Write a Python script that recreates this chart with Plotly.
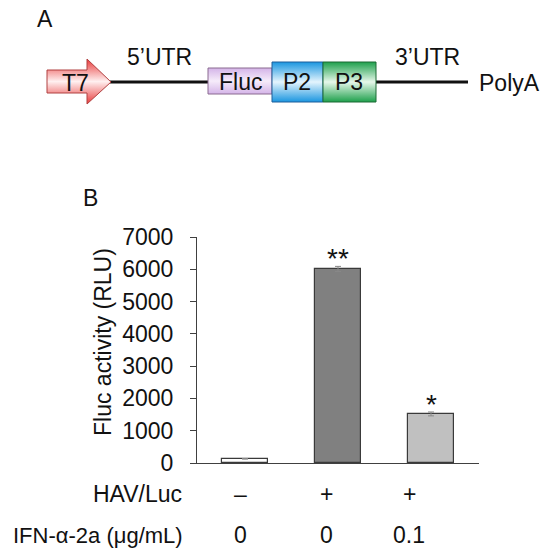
import plotly.graph_objects as go

# ==========================================================
# DATA
# ==========================================================

groups = ["HAV/Luc -", "HAV/Luc +", "HAV/Luc + IFN"]
fluc_rlu = [130, 6010, 1520]
fluc_err = [10, 80, 60]
bar_colors = ["#ffffff", "#808080", "#c0c0c0"]
stars = ["", "**", "*"]

y_ticks = [0, 1000, 2000, 3000, 4000, 5000, 6000, 7000]

hav_row = ["–", "+", "+"]
ifn_row = ["0", "0", "0.1"]

FONT = "Arial, Liberation Sans, sans-serif"
FS = 23
W = H = 550
OFF = 8  # page body margin


def px(x):
    return (x - OFF) / W


def py(y):
    return (H - (y - OFF)) / H


# ==========================================================
# BAR CHART (panel B)
# ==========================================================

fig = go.Figure()

fig.add_trace(
    go.Bar(
        x=list(range(len(groups))),
        y=fluc_rlu,
        width=0.505,
        marker=dict(color=bar_colors, line=dict(color="#3a3a3a", width=1.2)),
        error_y=dict(type="data", array=fluc_err, color="#888888",
                     thickness=1, width=3),
        showlegend=False,
        hoverinfo="skip",
    )
)

for i, s in enumerate(stars):
    if s:
        fig.add_annotation(
            x=i, y=fluc_rlu[i] + fluc_err[i], xref="x", yref="y",
            text=s, showarrow=False, yanchor="bottom", yshift=-10,
            font=dict(family=FONT, size=28, color="#111111"),
        )

fig.update_xaxes(
    range=[-0.516, 2.516],
    domain=[px(197), px(479)],
    automargin=False,
    showline=True, linecolor="#404040", linewidth=1,
    showticklabels=False, ticks="", showgrid=False, zeroline=False,
)

fig.update_yaxes(
    range=[0, 7000],
    domain=[py(463), py(237)],
    automargin=False,
    tickvals=y_ticks,
    showline=True, linecolor="#404040", linewidth=1,
    ticks="outside", ticklen=6, tickcolor="#404040",
    ticklabelstandoff=12,
    tickfont=dict(family=FONT, size=FS, color="#111111"),
    showgrid=False, zeroline=False,
)

# ==========================================================
# CONSTRUCT DIAGRAM (panel A), drawn in screen-pixel space
# ==========================================================

fig.update_layout(
    xaxis2=dict(domain=[0, 1], range=[OFF, W + OFF], visible=False,
                anchor="y2", automargin=False),
    yaxis2=dict(domain=[0, 1], range=[H + OFF, OFF], visible=False,
                anchor="x2", automargin=False),
)


def grad_shape(xs, ys, edge, mid, line):
    fig.add_trace(
        go.Scatter(
            x=xs, y=ys, xaxis="x2", yaxis="y2",
            mode="lines", fill="toself",
            fillgradient=dict(type="vertical",
                              colorscale=[[0, edge], [0.5, mid], [1, edge]]),
            line=dict(color=line, width=1),
            showlegend=False, hoverinfo="skip",
        )
    )


def line_seg(x0, x1, y):
    fig.add_trace(
        go.Scatter(
            x=[x0, x1], y=[y, y], xaxis="x2", yaxis="y2", mode="lines",
            line=dict(color="#111111", width=3),
            showlegend=False, hoverinfo="skip",
        )
    )


line_seg(110, 208, 82)
line_seg(376, 468, 82)

# T7 arrow
grad_shape([47, 87, 87, 111, 87, 87, 47, 47],
           [70, 70, 59, 82, 104, 93, 93, 70],
           "#e83a3a", "#fff0f0", "#b04040")
# Fluc
grad_shape([208, 272, 272, 208, 208], [68, 68, 94, 94, 68],
           "#d4b4e8", "#f6ecfa", "#8a6a90")
# P2
grad_shape([272, 323, 323, 272, 272], [62, 62, 102, 102, 62],
           "#1a96e0", "#e4f4fd", "#1f5f9a")
# P3
grad_shape([323, 376, 376, 323, 323], [62, 62, 102, 102, 62],
           "#1ea04c", "#e6f7ea", "#1d6a35")

diagram_text = [
    ("A", 45, 19, "center"),
    ("T7", 75, 83, "center"),
    ("5’UTR", 159, 57, "center"),
    ("Fluc", 240, 82, "center"),
    ("P2", 297, 82, "center"),
    ("P3", 349, 82, "center"),
    ("3’UTR", 427, 57, "center"),
    ("PolyA", 477, 83, "left"),
    ("B", 90, 198, "center"),
]

for txt, x, y, anchor in diagram_text:
    fig.add_annotation(
        x=px(x), y=py(y), xref="paper", yref="paper",
        text=txt, showarrow=False, xanchor=anchor, yanchor="middle",
        font=dict(family=FONT, size=FS, color="#111111"),
    )

# y-axis title
fig.add_annotation(
    x=px(103), y=py(342), xref="paper", yref="paper",
    text="Fluc activity (RLU)", textangle=-90, showarrow=False,
    xanchor="center", yanchor="middle",
    font=dict(family=FONT, size=FS, color="#111111"),
)

# condition rows under the bars
row_x = [240, 326, 409]
fig.add_annotation(
    x=px(184), y=py(494), xref="paper", yref="paper", text="HAV/Luc",
    showarrow=False, xanchor="right", yanchor="middle",
    font=dict(family=FONT, size=FS, color="#111111"),
)
fig.add_annotation(
    x=px(185), y=py(535), xref="paper", yref="paper", text="IFN-α-2a (μg/mL)",
    showarrow=False, xanchor="right", yanchor="middle",
    font=dict(family=FONT, size=22, color="#111111"),
)
for i in range(len(groups)):
    fig.add_annotation(
        x=px(row_x[i]), y=py(494), xref="paper", yref="paper", text=hav_row[i],
        showarrow=False, xanchor="center", yanchor="middle",
        font=dict(family=FONT, size=FS, color="#111111"),
    )
    fig.add_annotation(
        x=px(row_x[i]), y=py(535), xref="paper", yref="paper", text=ifn_row[i],
        showarrow=False, xanchor="center", yanchor="middle",
        font=dict(family=FONT, size=FS, color="#111111"),
    )

fig.update_layout(
    width=W, height=H,
    margin=dict(l=0, r=0, t=0, b=0, pad=0),
    paper_bgcolor="white",
    plot_bgcolor="rgba(0,0,0,0)",
    bargap=0,
)

fig.write_html("out.html")
